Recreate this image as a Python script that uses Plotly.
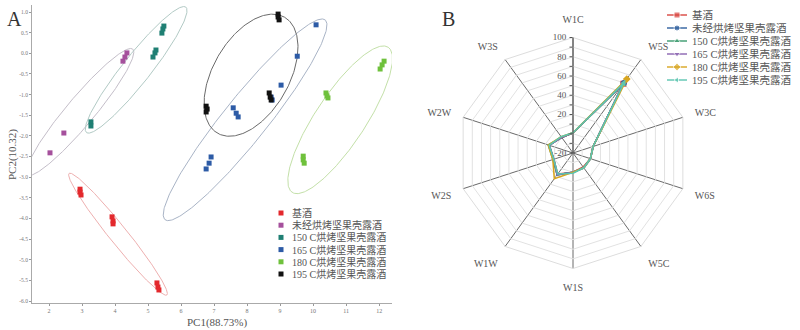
import numpy as np
import plotly.graph_objects as go

W, H = 800, 330

# ---------------- data ----------------
groups = ["基酒", "未经烘烤坚果壳露酒", "150 C烘烤坚果壳露酒", "165 C烘烤坚果壳露酒",
          "180 C烘烤坚果壳露酒", "195 C烘烤坚果壳露酒"]

# PCA scores (PC1, PC2) per group
pc1_base = [2.94, 2.94, 2.97, 3.91, 3.94, 3.94, 5.27, 5.30, 5.33]
pc2_base = [-3.29, -3.36, -3.43, -3.96, -4.06, -4.13, -5.56, -5.66, -5.73]
pc1_raw = [2.03, 2.45, 4.24, 4.30, 4.36]
pc2_raw = [-2.41, -1.93, -0.19, -0.09, 0.01]
pc1_150 = [3.27, 3.27, 5.15, 5.21, 5.24, 5.42, 5.45, 5.48]
pc2_150 = [-1.66, -1.76, -0.09, 0.01, 0.08, 0.49, 0.59, 0.66]
pc1_165 = [10.09, 9.52, 9.03, 8.73, 8.76, 7.58, 7.67, 7.73, 6.91, 6.85, 6.76]
pc2_165 = [0.69, -0.07, -0.77, -1.06, -1.13, -1.32, -1.45, -1.54, -2.51, -2.66, -2.80]
pc1_180 = [12.15, 12.09, 12.03, 10.39, 10.42, 10.45, 9.70, 9.70, 9.73]
pc2_180 = [-0.19, -0.28, -0.38, -0.96, -1.03, -1.08, -2.49, -2.58, -2.66]
pc1_195 = [8.94, 8.94, 8.97, 6.76, 6.79, 6.76, 8.67, 8.70, 8.73]
pc2_195 = [0.95, 0.88, 0.81, -1.28, -1.35, -1.42, -0.96, -1.06, -1.13]
pc1_all = [pc1_base, pc1_raw, pc1_150, pc1_165, pc1_180, pc1_195]
pc2_all = [pc2_base, pc2_raw, pc2_150, pc2_165, pc2_180, pc2_195]

# confidence ellipses: centre (data), semi-axes (px), rotation (deg)
ell_cx = [4.09, 2.94, 4.64, 7.94, 10.82, 8.12]
ell_cy = [-4.38, -1.42, -0.40, -1.61, -1.61, -0.53]
ell_a = [78, 82, 80, 128, 87, 67]
ell_b = [9, 14, 14, 22, 25, 38]
ell_deg = [-51.2, 50.0, 51.6, 51.3, 56.5, 60.0]

x_ticks = list(range(2, 13))
y_ticks = [1.0, 0.5, 0.0, -0.5, -1.0, -1.5, -2.0, -2.5, -3.0, -3.5, -4.0, -4.5, -5.0, -5.5, -6.0]

# radar (electronic nose sensors)
sensors = ["W1C", "W5S", "W3C", "W6S", "W5C", "W1S", "W1W", "W2S", "W2W", "W3S"]
radar_vals = [
    [1, 69, 2, -1, -2, 0, 7, 1, 6, 0],
    [1, 70, 2, -1, -1, 0, 8, 1, 6, 0],
    [1, 68, 2, -1, -1, 0, 8, 2, 7, 0],
    [1, 69, 2, -1, -1, 0, 8, 1, 6, 0],
    [1, 75, 2, -1, -1, 0, 13, 2, 7, 1],
    [1, 70, 2, -1, -1, 1, 7, 1, 6, 1],
]
radial_ticks = [-20, -10, 0, 10, 20, 30, 40, 50, 60, 70, 80, 90, 100]
radial_labels = ["-20", "", "", "", "20", "", "40", "", "60", "", "80", "", "100"]

# ---------------- styles ----------------
pca_colors = ["#e3282c", "#a5509c", "#1f7f73", "#2d5ba6", "#6fc13c", "#111111"]
ell_colors = ["#eeb0b0", "#c4bec9", "#b2cac5", "#a9b4c6", "#c3e0a8", "#6a6a6a"]
radar_colors = ["#d9453f", "#2f5f9e", "#3a9a6e", "#8a63b0", "#d8a520", "#5cc5b0"]
radar_symbols = ["square", "circle", "triangle-up", "triangle-down", "diamond", "triangle-left"]
serif = "Liberation Serif, Noto Sans CJK SC, serif"

# left panel geometry
xdom = [32 / W, 392 / W]
ydom = [1 - 303 / H, 1 - 5 / H]
xr = [1.485, 12.39]
yr = [-6.046, 1.17]
sx = (xdom[1] - xdom[0]) * W / (xr[1] - xr[0])
sy = (ydom[1] - ydom[0]) * H / (yr[1] - yr[0])

fig = go.Figure()

t = np.linspace(0, 2 * np.pi, 240)
for i in range(len(groups)):
    th = np.deg2rad(ell_deg[i])
    ex = ell_a[i] * np.cos(t) * np.cos(th) - ell_b[i] * np.sin(t) * np.sin(th)
    ey = ell_a[i] * np.cos(t) * np.sin(th) + ell_b[i] * np.sin(t) * np.cos(th)
    fig.add_trace(go.Scatter(x=ell_cx[i] + ex / sx, y=ell_cy[i] + ey / sy, mode="lines",
                             line=dict(color=ell_colors[i], width=1.0), showlegend=False,
                             hoverinfo="skip", xaxis="x", yaxis="y"))
for i in range(len(groups)):
    fig.add_trace(go.Scatter(x=pc1_all[i], y=pc2_all[i], mode="markers",
                             marker=dict(symbol="square", size=5, color=pca_colors[i]),
                             name=groups[i], showlegend=False, xaxis="x", yaxis="y"))

for i in range(len(groups)):
    r = radar_vals[i] + [radar_vals[i][0]]
    th = sensors + [sensors[0]]
    fig.add_trace(go.Scatterpolar(r=r, theta=th, mode="lines+markers",
                                  line=dict(color=radar_colors[i], width=1.6),
                                  marker=dict(symbol=radar_symbols[i], size=6, color=radar_colors[i]),
                                  name=groups[i], showlegend=False, subplot="polar"))

# legends drawn on a pixel overlay axis
legA_x, legA_y0, legA_dy = 281, 213, 12.2
for i in range(len(groups)):
    fig.add_trace(go.Scatter(x=[legA_x], y=[legA_y0 + i * legA_dy], mode="markers",
                             marker=dict(symbol="square", size=5, color=pca_colors[i]),
                             showlegend=False, hoverinfo="skip", xaxis="x3", yaxis="y3"))
legB_x0, legB_x1, legB_y0, legB_dy = 667, 687, 15, 13
for i in range(len(groups)):
    yy = legB_y0 + i * legB_dy
    fig.add_trace(go.Scatter(x=[legB_x0, (legB_x0 + legB_x1) / 2, legB_x1], y=[yy, yy, yy],
                             mode="lines+markers", line=dict(color=radar_colors[i], width=1.4),
                             marker=dict(symbol=radar_symbols[i], size=[0, 6, 0], color=radar_colors[i]),
                             showlegend=False, hoverinfo="skip", xaxis="x3", yaxis="y3"))

annotations = []
for i in range(len(groups)):
    annotations.append(dict(x=290, y=legA_y0 + i * legA_dy, xref="x3", yref="y3", text=groups[i],
                            showarrow=False, xanchor="left", yanchor="middle",
                            font=dict(family=serif, size=10, color="#555")))
    annotations.append(dict(x=690, y=legB_y0 + i * legB_dy, xref="x3", yref="y3", text=groups[i],
                            showarrow=False, xanchor="left", yanchor="middle",
                            font=dict(family=serif, size=10.5, color="#555")))
annotations += [
    dict(x=5, y=6, xref="x3", yref="y3", text="A", showarrow=False, xanchor="left", yanchor="top",
         font=dict(family=serif, size=20, color="#333")),
    dict(x=440, y=6, xref="x3", yref="y3", text="B", showarrow=False, xanchor="left", yanchor="top",
         font=dict(family=serif, size=20, color="#333")),
    dict(x=217, y=322, xref="x3", yref="y3", text="PC1(88.73%)", showarrow=False,
         xanchor="center", yanchor="middle", font=dict(family=serif, size=11, color="#555")),
    dict(x=12, y=155, xref="x3", yref="y3", text="PC2(10.32)", showarrow=False, textangle=-90,
         xanchor="center", yanchor="middle", font=dict(family=serif, size=11, color="#555")),
]

pc_x, pc_y, pr = 573, 153, 115.5
fig.update_layout(
    width=W, height=H, margin=dict(l=0, r=0, t=0, b=0),
    paper_bgcolor="white", plot_bgcolor="rgba(0,0,0,0)",
    showlegend=False,
    xaxis=dict(domain=xdom, range=xr, tickvals=x_ticks, ticks="outside", ticklen=2,
               tickcolor="#999", showline=True, linecolor="#aaa", linewidth=1,
               showgrid=False, zeroline=False, tickfont=dict(family=serif, size=6, color="#777"),
               anchor="y"),
    yaxis=dict(domain=ydom, range=yr, tickvals=y_ticks, ticktext=[f"{v:.1f}" for v in y_ticks],
               ticks="outside", ticklen=2, tickcolor="#999", showline=True, linecolor="#aaa",
               linewidth=1, showgrid=False, zeroline=False,
               tickfont=dict(family=serif, size=5.5, color="#777"), anchor="x"),
    xaxis3=dict(domain=[0, 1], range=[0, W], visible=False, anchor="y3", fixedrange=True),
    yaxis3=dict(domain=[0, 1], range=[H, 0], visible=False, anchor="x3", fixedrange=True),
    polar=dict(
        domain=dict(x=[(pc_x - pr) / W, (pc_x + pr) / W],
                    y=[1 - (pc_y + pr) / H, 1 - (pc_y - pr) / H]),
        bgcolor="white", gridshape="linear", hole=0,
        radialaxis=dict(range=[-20, 100], tickvals=radial_ticks, ticktext=radial_labels,
                        angle=90, tickangle=90, showline=True, linecolor="#555", linewidth=1,
                        gridcolor="#e2e2e2", gridwidth=1, ticks="outside", ticklen=3,
                        tickcolor="#555", side="counterclockwise",
                        tickfont=dict(family=serif, size=9, color="#555")),
        angularaxis=dict(categoryarray=sensors, categoryorder="array", rotation=90,
                         direction="clockwise", gridcolor="#6a6a6a", gridwidth=1,
                         showline=True, linecolor="#dddddd", linewidth=1, ticks="outside",
                         ticklen=10, tickcolor="rgba(0,0,0,0)",
                         tickfont=dict(family=serif, size=10, color="#555")),
    ),
    annotations=annotations,
)

fig.write_html("out.html")
